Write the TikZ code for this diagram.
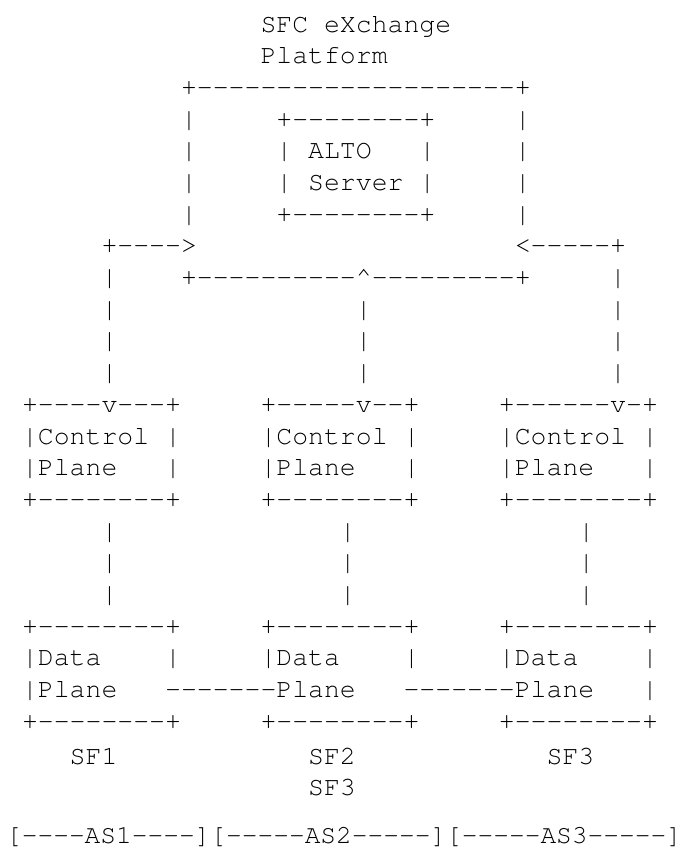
\documentclass[tikz,border=0pt]{standalone}
\usepackage[T1]{fontenc}
\newcommand{\dashes}[1]{\foreach \d in {1,...,#1}{-}}
\newcommand{\gap}[1]{\foreach \s in {1,...,#1}{~}}
\begin{document}
\begin{tikzpicture}[x=15.9pt, y=-31.7pt,
    row/.style={anchor=base west, inner sep=0pt, outer sep=0pt,
      font=\fontfamily{pcr}\fontsize{26.5pt}{31.7pt}\selectfont}]
    \useasboundingbox (-0.387,-0.01) rectangle (42.82,27.03);
    \node[row] (title)   at (16,1) {SFC eXchange};
    \node[row] (title2)  at (16,2) {Platform};
    \node[row] (sfctop)  at (11,3) {+\dashes{20}+};
    \node[row] (altotop) at (11,4) {|\gap{5}+\dashes{8}+\gap{5}|};
    \node[row] (alto)    at (11,5) {|\gap{5}|~ALTO\gap{3}|\gap{5}|};
    \node[row] (server)  at (11,6) {|\gap{5}|~Server~|\gap{5}|};
    \node[row] (altobot) at (11,7) {|\gap{5}+\dashes{8}+\gap{5}|};
    \node[row] (arrows)  at (6,8)  {+\dashes{4}>\gap{20}<\dashes{5}+};
    \node[row] (sfcbot)  at (6,9)  {|\gap{4}+\dashes{10}\textasciicircum\dashes{9}+\gap{5}|};
    \node[row] (link1)   at (6,10) {|\gap{15}|\gap{15}|};
    \node[row] (link2)   at (6,11) {|\gap{15}|\gap{15}|};
    \node[row] (link3)   at (6,12) {|\gap{15}|\gap{15}|};
    \node[row] (cptop)   at (1,13) {+\dashes{4}v\dashes{3}+\gap{5}+\dashes{5}v\dashes{2}+\gap{5}+\dashes{6}v-+};
    \node[row] (cp1)     at (1,14) {|Control~|\gap{5}|Control~|\gap{5}|Control~|};
    \node[row] (cp2)     at (1,15) {|Plane\gap{3}|\gap{5}|Plane\gap{3}|\gap{5}|Plane\gap{3}|};
    \node[row] (cpbot)   at (1,16) {+\dashes{8}+\gap{5}+\dashes{8}+\gap{5}+\dashes{8}+};
    \node[row] (down1)   at (6,17) {|\gap{14}|\gap{14}|};
    \node[row] (down2)   at (6,18) {|\gap{14}|\gap{14}|};
    \node[row] (down3)   at (6,19) {|\gap{14}|\gap{14}|};
    \node[row] (dptop)   at (1,20) {+\dashes{8}+\gap{5}+\dashes{8}+\gap{5}+\dashes{8}+};
    \node[row] (dp1)     at (1,21) {|Data\gap{4}|\gap{5}|Data\gap{4}|\gap{5}|Data\gap{4}|};
    \node[row] (dp2)     at (1,22) {|Plane\gap{3}\dashes{7}Plane\gap{3}\dashes{7}Plane\gap{3}|};
    \node[row] (dpbot)   at (1,23) {+\dashes{8}+\gap{5}+\dashes{8}+\gap{5}+\dashes{8}+};
    \node[row] (sfs)     at (4,24.1) {SF1\gap{12}SF2\gap{12}SF3};
    \node[row] (sfs2)    at (19,25.1) {SF3};
    \node[row, font=\fontfamily{pcr}\fontsize{26.2pt}{31.7pt}\selectfont]
      (domains) at (0,26.6) {[\dashes{4}AS1\dashes{4}][\dashes{5}AS2\dashes{5}][\dashes{5}AS3\dashes{5}]};
\end{tikzpicture}
\end{document}
